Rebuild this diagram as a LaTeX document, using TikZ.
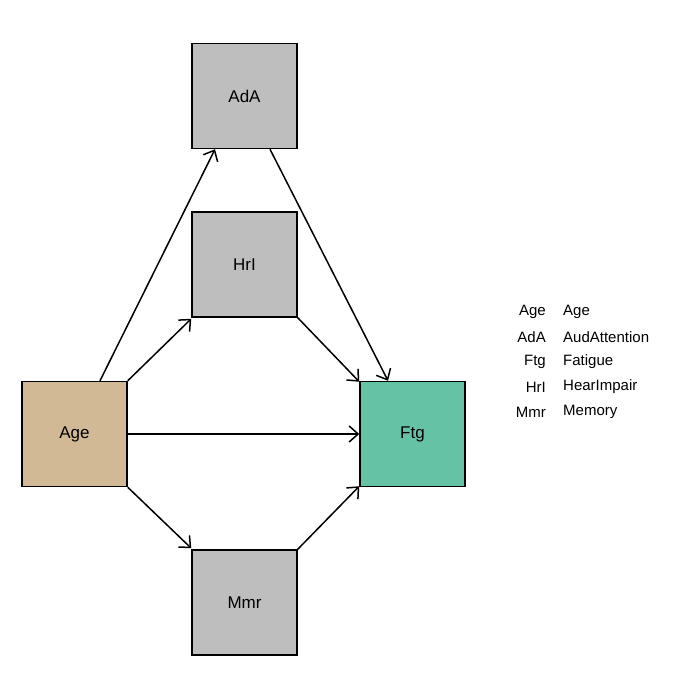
\documentclass[tikz,border=0pt]{standalone}
\usepackage{fontspec}
\setmainfont{Liberation Sans}
\usetikzlibrary{calc}
\begin{document}
\begin{tikzpicture}[x=1pt,y=-1pt,
 box/.style={draw,line width=1.5pt,minimum width=105pt,minimum height=105pt,inner sep=0pt,font=\fontsize{17}{20}\selectfont},
 arr/.style={line width=1.5pt,-{Straight Barb[length=9pt,width=16pt,line width=1.5pt]}},
 leg/.style={font=\fontsize{15}{18}\selectfont,inner sep=0pt}]
\usetikzlibrary{arrows.meta}
\useasboundingbox (0,0) rectangle (700,700);
\definecolor{grayb}{RGB}{190,190,190}
\definecolor{tan}{RGB}{210,185,150}
\definecolor{teal}{RGB}{102,194,165}
\node[box,fill=grayb] (ada) at (244.5,96) {AdA};
\node[box,fill=grayb] (hri) at (244.5,264.5) {HrI};
\node[box,fill=tan] (age) at (74.5,434) {Age};
\node[box,fill=teal] (ftg) at (412.5,434) {Ftg};
\node[box,fill=grayb] (mmr) at (244.5,602.5) {Mmr};
\draw[arr] ([xshift=25.5pt]age.north) -- ([xshift=-29.5pt]ada.south);
\draw[arr] (age.north east) -- ([yshift=-1pt]hri.south west);
\draw[arr] (age.east) -- (ftg.west);
\draw[arr] (age.south east) -- ([yshift=1pt]mmr.north west);
\draw[arr] ([xshift=25.5pt]ada.south) -- ([xshift=-24.5pt]ftg.north);
\draw[arr] (hri.south east) -- ([yshift=-1pt]ftg.north west);
\draw[arr] (mmr.north east) -- ([yshift=1pt]ftg.south west);
\foreach \a/\b/\y [count=\i] in {Age/Age/312,AdA/AudAttention/337,Ftg/Fatigue/362,HrI/HearImpair/387,Mmr/Memory/412}{
 \node[leg,anchor=east] (la\i) at (546,\y) {\a};
 \node[leg,anchor=west] (lb\i) at (563,\y) {\b};
}
\end{tikzpicture}
\end{document}
